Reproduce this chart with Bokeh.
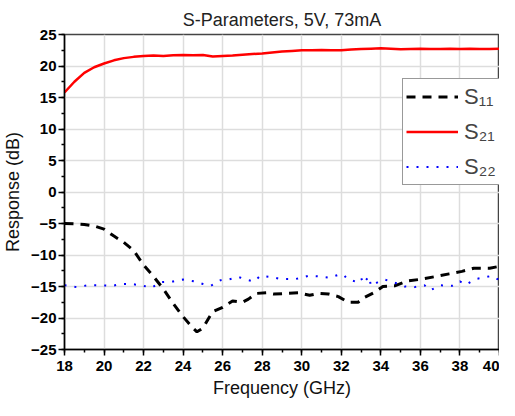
from bokeh.plotting import figure
from bokeh.models import Range1d, SingleIntervalTicker, Legend, LegendItem
from bokeh.embed import file_html
from bokeh.resources import INLINE

# ---- data ----
s21_f = [18, 18.5, 19, 19.5, 20, 20.5, 21, 21.5, 22, 22.5, 23, 23.5, 24, 24.5, 25,
         25.5, 26, 26.5, 27, 27.5, 28, 28.5, 29, 29.5, 30, 30.5, 31, 31.5, 32, 32.5,
         33, 33.5, 34, 34.5, 35, 35.5, 36, 36.5, 37, 37.5, 38, 38.5, 39, 39.5, 40]
s21_db = [15.8, 17.5, 18.9, 19.8, 20.4, 20.9, 21.25, 21.45, 21.6, 21.65, 21.6, 21.7, 21.75, 21.7, 21.75,
          21.5, 21.6, 21.65, 21.8, 21.9, 22.0, 22.15, 22.3, 22.4, 22.5, 22.5, 22.55, 22.5, 22.5, 22.6,
          22.7, 22.75, 22.8, 22.75, 22.65, 22.7, 22.75, 22.7, 22.7, 22.75, 22.7, 22.75, 22.7, 22.7, 22.75]

s11_f = [18, 18.5, 19, 19.5, 20, 20.5, 21, 21.5, 22, 22.5, 23, 23.5, 24, 24.5, 24.7, 25,
         25.3, 25.5, 26, 26.5, 27, 27.3, 27.7, 28.2, 28.6, 29.2, 29.85, 30.4, 30.85, 31.35,
         31.85, 32.35, 32.85, 33.2, 33.7, 34.1, 34.7, 35.35, 35.9, 36.8, 37.45, 38.1, 38.7,
         39.0, 39.5, 40]
s11_db = [-5.0, -5.05, -5.15, -5.4, -5.9, -7.0, -8.0, -9.3, -11.6, -13.4, -15.4, -17.7, -19.8, -21.6, -22.2, -21.6,
          -20.0, -19.0, -18.3, -17.3, -17.5, -17.0, -16.1, -16.0, -16.2, -16.1, -16.0, -16.4, -16.1, -16.2,
          -16.6, -17.5, -17.5, -16.7, -15.9, -15.0, -14.9, -14.1, -13.9, -13.4, -13.0, -12.6, -12.1,
          -12.1, -12.1, -11.8]

s22_f = [18, 18.6, 19.2, 19.8, 20.4, 20.9, 21.4, 22, 22.4, 22.9, 23.5, 24, 24.6, 25, 25.4,
         25.9, 26.3, 26.8, 27.3, 27.6, 27.9, 28.5, 28.9, 29.7, 30.0, 30.35, 30.9, 31.4, 31.8,
         32.1, 32.3, 32.7, 33.0, 33.1, 33.4, 33.5, 33.9, 34.2, 34.7, 35.2, 35.7, 36.2, 36.5,
         37.0, 37.6, 38.0, 38.3, 38.8, 39.2, 39.6, 40]
s22_db = [-14.8, -15.1, -14.8, -14.8, -14.9, -14.6, -14.6, -14.9, -15.2, -14.3, -14.2, -13.9, -14.2, -14.6, -14.9,
          -14.0, -13.9, -13.5, -14.0, -14.2, -13.3, -13.5, -13.8, -13.8, -13.6, -13.3, -13.4, -13.6, -13.2,
          -13.1, -13.8, -14.2, -13.6, -14.5, -13.4, -14.9, -14.2, -13.9, -14.4, -15.0, -15.1, -14.8, -15.6,
          -14.8, -14.9, -14.2, -14.7, -13.8, -13.6, -13.3, -14.0]

legend_labels = ["S\u2081\u2081", "S\u2082\u2081", "S\u2082\u2082"]

FONT = "Liberation Sans"

p = figure(width=499, height=400, output_backend="svg", toolbar_location=None,
           x_range=Range1d(18, 40), y_range=Range1d(-25, 25),
           min_border_left=58, min_border_right=0, min_border_top=34, min_border_bottom=48)

p.title.text = "S-Parameters, 5V, 73mA"
p.title.align = "center"
p.title.text_font = FONT
p.title.text_font_size = "18px"
p.title.text_font_style = "normal"
p.title.text_color = "#222222"

p.xaxis.ticker = SingleIntervalTicker(interval=2, num_minor_ticks=2)
p.yaxis.ticker = SingleIntervalTicker(interval=5, num_minor_ticks=2)
for ax in (p.xaxis, p.yaxis):
    ax.axis_line_color = "black"
    ax.axis_line_width = 1.5
    ax.major_tick_line_color = "black"
    ax.minor_tick_line_color = "black"
    ax.major_tick_line_width = 1.5
    ax.minor_tick_line_width = 1.5
    ax.major_tick_out = 6
    ax.major_tick_in = 0
    ax.minor_tick_out = 3
    ax.minor_tick_in = 0
    ax.major_label_text_font = FONT
    ax.major_label_text_font_size = "15px"
    ax.major_label_text_font_style = "bold"
    ax.major_label_text_color = "black"
    ax.axis_label_text_font = FONT
    ax.axis_label_text_font_size = "18px"
    ax.axis_label_text_font_style = "normal"
    ax.axis_label_text_color = "#111111"
    ax.major_label_standoff = 2
    ax.axis_label_standoff = 5
p.xaxis.major_label_standoff = 5
p.xaxis.axis_label_standoff = 4
p.xaxis.axis_label = "Frequency (GHz)"
p.yaxis.axis_label = "Response (dB)"

p.grid.grid_line_color = "#dddddd"
p.grid.grid_line_width = 1.5
p.outline_line_color = "#444444"
p.outline_line_width = 1.5

r21 = p.line(s21_f, s21_db, line_color="#ff0000", line_width=2.5)
r11 = p.line(s11_f, s11_db, line_color="black", line_width=3, line_dash="9 7")
r22 = p.line(s22_f, s22_db, line_color="#0000ff", line_width=2, line_dash="2 8")

legend = Legend(items=[LegendItem(label=legend_labels[0], renderers=[r11]),
                       LegendItem(label=legend_labels[1], renderers=[r21]),
                       LegendItem(label=legend_labels[2], renderers=[r22])],
                location=(338, 164), orientation="vertical",
                label_text_font=FONT, label_text_font_size="22px",
                label_height=29, glyph_height=29, glyph_width=52, label_width=30,
                label_standoff=6, padding=3, spacing=6, margin=0,
                border_line_color="#333333", border_line_width=1,
                background_fill_color="white", background_fill_alpha=1)
p.add_layout(legend)

open("out.html", "w").write(file_html(p, INLINE))
